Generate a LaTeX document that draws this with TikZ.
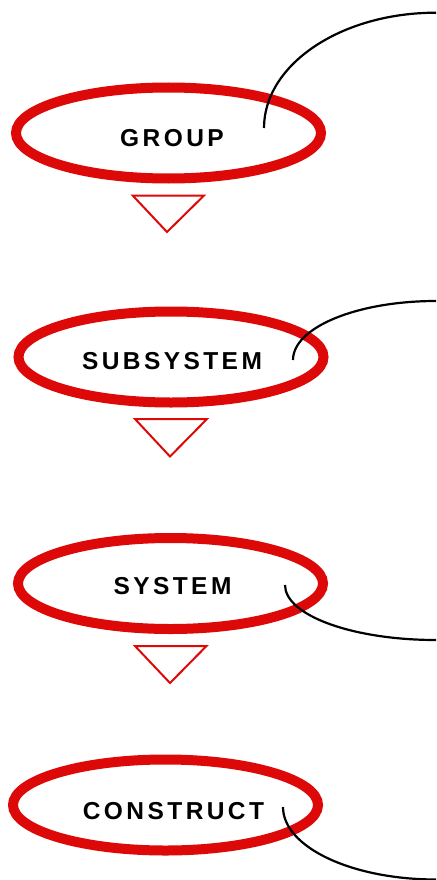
\documentclass[tikz,border=0pt]{standalone}
\usepackage{fontspec}
\setmainfont{Liberation Sans}
\usetikzlibrary{shapes.geometric}
\definecolor{ringred}{RGB}{221,8,8}
\tikzset{
  ring/.style={ellipse, draw=ringred, line width=10pt, inner sep=0pt, minimum width=305pt, minimum height=91pt},
  lbl/.style={anchor=base, inner sep=0pt, font=\fontsize{24.5}{28}\selectfont\bfseries\addfontfeatures{LetterSpace=14}},
  tri/.style={draw=ringred, line width=2pt, line join=miter},
  link/.style={draw=black, line width=2.2pt}
}
\begin{document}
\begin{tikzpicture}[x=1pt,y=-1pt]
\useasboundingbox (0,0) rectangle (436,880);
% ellipses
\node[ring] (group) at (168.5,133) {};
\node[ring] (subsystem) at (171,357) {};
\node[ring] (system) at (170.5,583.5) {};
\node[ring] (construct) at (165.5,805) {};
% labels
\node[lbl] (tgroup) at (172,146.5) {GROUP};
\node[lbl] (tsubsystem) at (172,369) {SUBSYSTEM};
\node[lbl] (tsystem) at (172.5,594) {SYSTEM};
\node[lbl] (tconstruct) at (173.5,819) {CONSTRUCT};
% triangles
\draw[tri] (132.7,195.5) -- (204,195.5) -- (167,232) -- cycle;
\draw[tri] (135,419) -- (207,419) -- (170,456.5) -- cycle;
\draw[tri] (135,646) -- (206.5,646) -- (170,683) -- cycle;
% curves
\coordinate (c1s) at (264,128);
\coordinate (c1e) at (436,12.7);
\draw[link] (c1s) .. controls (264,64.5) and (341,12.7) .. (c1e);
\coordinate (c2s) at (293,360);
\coordinate (c2e) at (436,301);
\draw[link] (c2s) .. controls (293,327.4) and (357,301) .. (c2e);
\coordinate (c3s) at (285,585);
\coordinate (c3e) at (436,640);
\draw[link] (c3s) .. controls (285,615.4) and (352.6,640) .. (c3e);
\coordinate (c4s) at (283,807);
\coordinate (c4e) at (436,879.5);
\draw[link] (c4s) .. controls (283,847) and (351.5,879.5) .. (c4e);
\end{tikzpicture}
\end{document}
